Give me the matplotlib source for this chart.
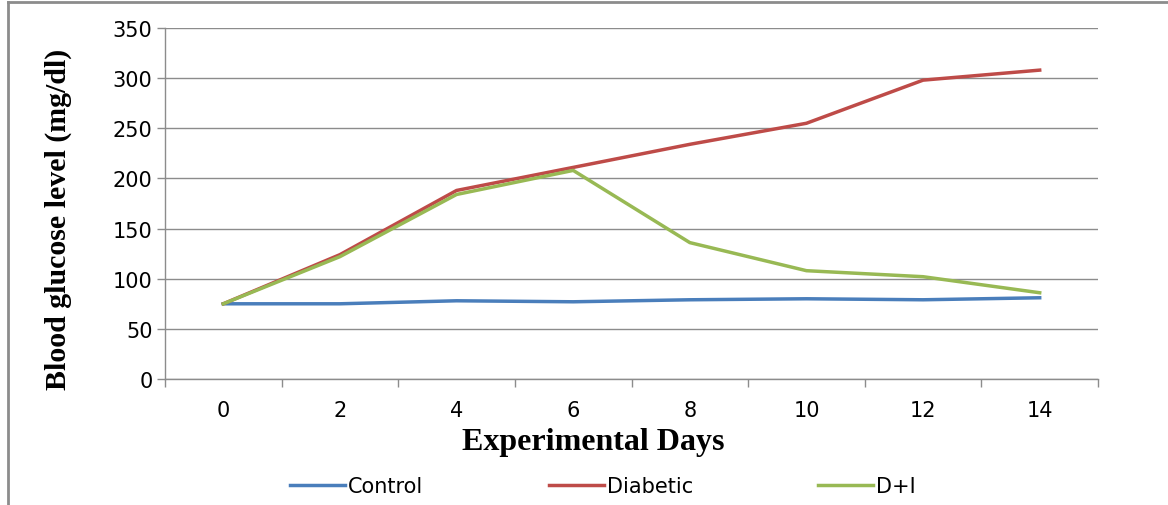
import numpy as np
import matplotlib.pyplot as plt
from matplotlib.lines import Line2D

# blood glucose (mg/dl) over the experimental period
days = [0, 2, 4, 6, 8, 10, 12, 14]
control = [75, 75, 78, 77, 79, 80, 79, 81]
diabetic = [75, 124, 188, 211, 234, 255, 298, 308]
d_plus_i = [75, 122, 184, 208, 136, 108, 102, 86]

series_names = ['Control', 'Diabetic', 'D+I']
series_colors = ['#4A7EBB', '#BE4B48', '#98B954']

tick_font = 'DejaVu Sans'
label_font = 'Liberation Serif'
grid_grey = '#8C8C8C'

fig = plt.figure(figsize=(11.68, 5.06), dpi=100)
ax = fig.add_axes([165 / 1168, 1 - 380 / 506, 933 / 1168, 351 / 506])

x = np.arange(len(days))
for vals, name, col in zip([control, diabetic, d_plus_i], series_names, series_colors):
    ax.plot(x, vals, color=col, lw=2.5, label=name, solid_joinstyle='round')

ax.set_xlim(-0.5, len(days) - 0.5)
ax.set_ylim(0, 350)
ax.set_yticks(np.arange(0, 351, 50))
ax.yaxis.grid(True, color=grid_grey, lw=1.0)
ax.set_axisbelow(True)

# category axis: labels centred, tick marks on the boundaries
ax.set_xticks(x)
ax.set_xticklabels([str(d) for d in days], fontfamily=tick_font, fontsize=15)
ax.set_xticks(np.arange(-0.5, len(days)), minor=True)
ax.tick_params(axis='x', which='major', length=0, pad=15)
ax.tick_params(axis='x', which='minor', length=6, color=grid_grey, width=1)
ax.tick_params(axis='y', length=6, color=grid_grey, width=1, pad=3)
for lab in ax.get_yticklabels():
    lab.set_fontfamily(tick_font)
    lab.set_fontsize(15)

for s in ['top', 'right']:
    ax.spines[s].set_visible(False)
for s in ['left', 'bottom']:
    ax.spines[s].set_color(grid_grey)
    ax.spines[s].set_linewidth(1)

ax.set_xlabel('Experimental Days', fontfamily=label_font, fontweight='bold', fontsize=23)
ax.xaxis.set_label_coords(0.459, -0.138)
ax.set_ylabel('Blood glucose level (mg/dl)', fontfamily=label_font, fontweight='bold',
              fontsize=21.5)
ax.yaxis.set_label_coords(-0.1, 0.459)

fig.legend(loc='center', bbox_to_anchor=(603 / 1168, 1 - 487 / 506), ncol=3,
           frameon=False, prop={'family': tick_font, 'size': 15},
           handlelength=2.65, handletextpad=0.15, columnspacing=6.0)

# outer chart frame
fig.add_artist(Line2D([8 / 1168, 8 / 1168], [0, 1 - 3 / 506], transform=fig.transFigure,
                      color='#8C8C8C', lw=2))
fig.add_artist(Line2D([8 / 1168, 1], [1 - 3 / 506, 1 - 3 / 506], transform=fig.transFigure,
                      color='#8C8C8C', lw=2))

fig.savefig('out.png', dpi=100)
